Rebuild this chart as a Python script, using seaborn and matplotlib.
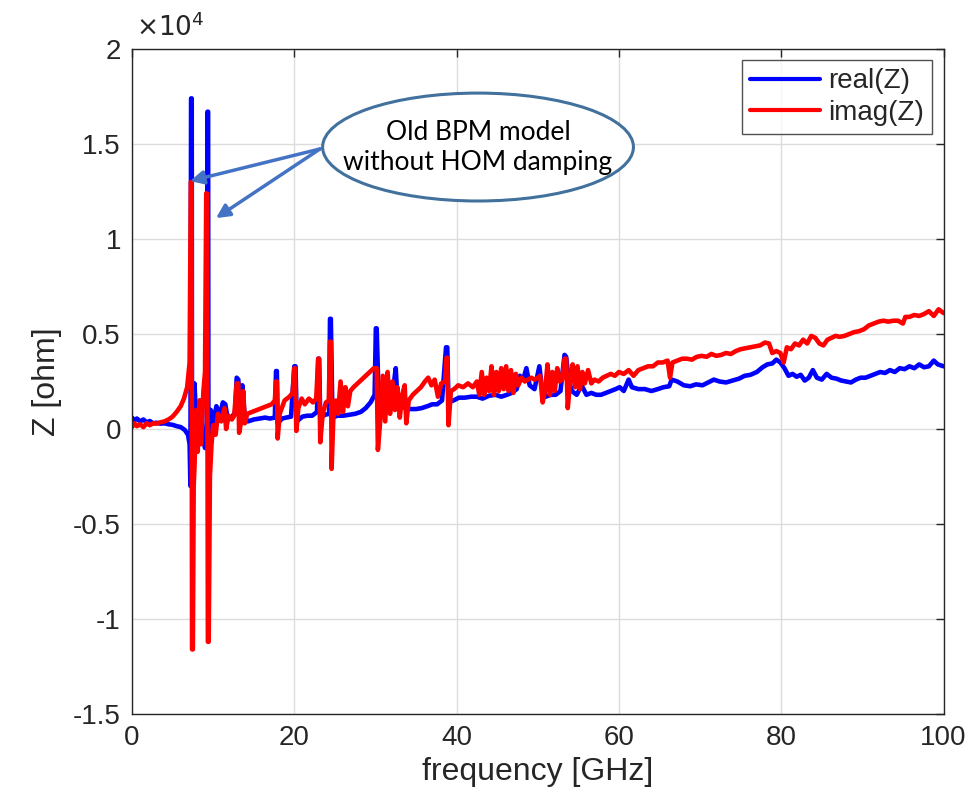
import matplotlib
matplotlib.use("Agg")
import matplotlib.pyplot as plt
import seaborn as sns
import pandas as pd
from matplotlib.patches import Ellipse

# ---------------- data ----------------
real_f = [0.0, 0.3, 0.6, 1.0, 1.4, 1.8, 2.2, 2.6, 3.0, 3.5, 4.0, 4.5, 5.0, 5.5, 6.0, 6.5, 6.9,
          7.1, 7.2, 7.28, 7.36, 7.4, 7.5, 7.7, 7.9, 8.1, 8.4, 8.7, 9.0, 9.2, 9.3, 9.38, 9.42, 9.5,
          9.7, 10.0, 10.4, 10.8, 11.2, 11.5, 11.8, 12.3, 12.7, 12.9, 13.1, 13.3, 13.6, 13.9, 14.3,
          15.0, 15.7, 16.4, 17.0, 17.6, 17.75, 17.85, 17.95, 18.5, 19.0, 19.6, 20.0, 20.15, 20.3,
          21.0, 21.6, 22.2, 22.8, 22.95, 23.05, 23.2, 23.8, 24.3, 24.4, 24.5, 24.7, 25.3, 26.0,
          26.8, 27.5, 28.2, 28.8, 29.4, 29.9, 30.05, 30.15, 30.4, 30.8, 31.3, 31.8, 32.3, 32.5,
          32.7, 33.2, 33.7, 34.3, 35.0, 35.7, 36.4, 37.0, 37.6, 38.2, 38.7, 38.85, 39.0, 39.6,
          40.3, 41.0, 41.8, 42.5, 43.2, 44.0, 44.8, 45.5, 46.2, 46.8, 47.4, 47.8, 48.2, 48.6,
          49.0, 49.6, 50.2, 50.5, 51.0, 51.6, 52.2, 52.8, 53.3, 53.5, 53.8, 54.2, 54.8, 55.4,
          56.0, 56.6, 57.2, 57.8, 58.4, 59.0, 59.6, 60.1, 60.6, 61.2, 61.6, 62.4, 63.2, 64.0,
          64.8, 65.5, 66.2, 66.5, 67.2, 68.0, 68.8, 69.5, 70.3, 71.0, 71.7, 72.4, 73.2, 74.0,
          74.8, 75.5, 76.2, 77.0, 77.7, 78.3, 78.9, 79.4, 79.9, 80.4, 80.9, 81.4, 81.9, 82.4,
          82.9, 83.4, 83.9, 84.4, 85.0, 85.6, 86.2, 86.8, 87.4, 88.0, 88.6, 89.2, 89.8, 90.4,
          91.0, 91.6, 92.2, 92.8, 93.4, 94.0, 94.6, 95.2, 95.8, 96.4, 97.0, 97.6, 98.2, 98.8,
          99.3, 100.0]
real_z = [600, 450, 550, 400, 500, 350, 420, 300, 330, 280, 300, 250, 220, 150, 100, -50, -300,
          -800, -3000, 17400, 17400, -3000, 300, 2400, 500, -600, 1500, -300, -1000, -500, 16700, 16700, -3100, -200,
          1000, 300, 1200, 700, 1400, 1300, 500, 600, 900, 2700, 2600, 900, 2300, 600, 400,
          500, 550, 600, 550, 600, 3050, 3050, 300, 550, 600, 650, 3300, 3300, 400,
          650, 700, 700, 900, 3700, 3700, 600, 750, 800, 5800, 5800, 600, 700, 700,
          750, 800, 900, 1100, 1400, 1800, 5300, 5300, 1500, 800, 1000, 1500, 2500, 3200,
          1600, 1200, 1100, 1050, 1050, 1100, 1200, 1300, 1300, 1500, 4300, 4300, 1400, 1500,
          1650, 1650, 1700, 1700, 1600, 1750, 1800, 1700, 1800, 1900, 2100, 2800, 2600, 3200,
          2300, 2100, 3300, 2200, 1700, 1800, 1800, 2000, 3900, 3800, 2600, 2000, 1800, 2300,
          1800, 1900, 1800, 1800, 1900, 2000, 2100, 2200, 2000, 2600, 2200, 2100, 2100, 2000,
          2100, 2200, 2250, 2600, 2500, 2300, 2250, 2350, 2300, 2450, 2600, 2500, 2450, 2550,
          2650, 2800, 2850, 3000, 3250, 3400, 3450, 3650, 3500, 3200, 2800, 2900, 2750, 2850,
          2550, 2700, 3100, 2700, 2600, 2900, 2700, 2650, 2550, 2500, 2450, 2600, 2700, 2700,
          2800, 2900, 3000, 2950, 3100, 3000, 3200, 3150, 3300, 3200, 3400, 3250, 3300, 3600,
          3400, 3300]

imag_f = [0.0, 0.3, 0.6, 1.0, 1.4, 1.8, 2.2, 2.6, 3.0, 3.5, 4.0, 4.5, 5.0, 5.5, 6.0, 6.4, 6.8,
          7.1, 7.25, 7.33, 7.4, 7.5, 7.6, 7.7, 7.9, 8.1, 8.3, 8.5, 8.8, 9.0, 9.15, 9.25, 9.35,
          9.45, 9.6, 9.8, 10.0, 10.3, 10.6, 11.0, 11.4, 11.6, 11.9, 12.3, 12.6, 12.9, 13.1, 13.2,
          13.5, 13.7, 13.9, 14.2, 14.8, 15.4, 16.0, 16.6, 17.2, 17.6, 17.75, 17.85, 17.95, 18.2,
          18.8, 19.4, 19.8, 20.0, 20.1, 20.25, 20.5, 20.9, 21.3, 21.8, 22.3, 22.7, 22.95, 23.05,
          23.2, 23.5, 23.9, 24.25, 24.4, 24.5, 24.6, 24.8, 25.1, 25.4, 25.7, 26.0, 26.3, 26.6,
          26.9, 27.3, 27.8, 28.3, 28.8, 29.3, 29.8, 30.05, 30.15, 30.3, 30.6, 30.9, 31.2, 31.5,
          31.8, 32.1, 32.4, 32.7, 33.0, 33.3, 33.6, 33.8, 34.1, 34.6, 35.1, 35.6, 36.1, 36.5,
          36.9, 37.3, 37.7, 38.1, 38.6, 38.75, 38.85, 39.0, 39.3, 39.7, 40.2, 40.8, 41.4, 42.0,
          42.5, 42.8, 43.1, 43.4, 43.7, 44.0, 44.3, 44.6, 44.9, 45.2, 45.5, 45.8, 46.1, 46.4,
          46.7, 47.0, 47.3, 47.6, 48.0, 48.4, 48.8, 49.2, 49.6, 50.0, 50.3, 50.6, 50.9, 51.2,
          51.5, 51.8, 52.1, 52.4, 52.7, 53.0, 53.3, 53.5, 53.7, 54.0, 54.3, 54.6, 54.9, 55.2,
          55.5, 55.8, 56.2, 56.6, 57.0, 57.5, 58.0, 58.5, 59.0, 59.5, 60.0, 60.6, 61.2, 61.8,
          62.4, 63.0, 63.6, 64.2, 64.8, 65.4, 66.0, 66.3, 66.6, 67.2, 67.8, 68.4, 69.0, 69.6,
          70.2, 70.8, 71.4, 72.0, 72.6, 73.2, 73.8, 74.4, 75.0, 75.6, 76.2, 76.8, 77.4, 78.0,
          78.5, 78.9, 79.4, 79.9, 80.3, 80.7, 81.2, 81.7, 82.2, 82.7, 83.2, 83.7, 84.2, 84.7,
          85.2, 85.7, 86.2, 86.7, 87.2, 87.8, 88.4, 89.0, 89.6, 90.2, 90.8, 91.4, 92.0, 92.6,
          93.2, 93.8, 94.4, 95.0, 95.3, 95.8, 96.4, 97.0, 97.6, 98.2, 98.8, 99.4, 100.0]
imag_z = [100, 300, 150, 250, 100, 300, 200, 300, 280, 350, 400, 500, 650, 900, 1200, 1600, 2200,
          3500, 13000, 13000, -11600, -11600, -3000, -2000, 1000, -1200, 1500, -800, 2000, 3000, 12400, 12400, -11200,
          -11200, -2500, -800, 200, -300, 800, 400, 1100, 0, 700, 500, 700, 2400, 2400, -200,
          500, 2000, 300, 800, 900, 1000, 1100, 1200, 1300, 1500, 2500, 2500, -500, 800,
          1500, 1700, 1900, 3200, 3200, -100, 1100, 1600, 1300, 1600, 1400, 1600, 3700, 3700,
          -700, 800, 1400, 1500, 4600, 4600, -2100, 500, 1500, 800, 2500, 900, 2200, 1200,
          2000, 2200, 2400, 2600, 2800, 3000, 3200, 3200, 3200, -1100, 500, 2800, 400, 3000,
          800, 2500, 1000, 2200, 600, 1800, 2300, 300, 1500, 1800, 2000, 2200, 2500, 2700,
          2300, 2600, 1700, 2400, 2500, 3750, 3750, 200, 2000, 2100, 2300, 2200, 2400, 2200,
          2500, 1800, 3000, 1800, 2700, 2000, 3300, 1800, 3000, 2000, 3200, 2100, 3300, 2000,
          3100, 1900, 2900, 2300, 2700, 2500, 2600, 2700, 2600, 2700, 2800, 1400, 2000, 3400,
          1800, 3000, 2000, 3200, 2500, 2600, 3700, 3700, 1100, 2600, 3400, 2200, 3300, 2100,
          3000, 2400, 3100, 2400, 2600, 2500, 2700, 2800, 2900, 2800, 3000, 2900, 3100, 2800,
          3100, 3200, 3300, 3300, 3500, 3500, 3600, 2700, 3500, 3600, 3700, 3700, 3650, 3800,
          3850, 3800, 3950, 3850, 3900, 4000, 3950, 4100, 4200, 4250, 4300, 4350, 4400, 4550,
          4500, 4000, 4100, 4000, 3500, 4300, 4200, 4500, 4400, 4700, 4500, 4900, 4800, 4500,
          4400, 4700, 4800, 4900, 4850, 4900, 5000, 5100, 5150, 5250, 5450, 5550, 5650, 5700,
          5650, 5700, 5700, 5550, 5900, 5900, 6000, 5950, 6050, 6200, 5950, 6300, 6100]

series_names = ["real(Z)", "imag(Z)"]
series_colors = ["#0000FF", "#FF0000"]
x_ticks = [0, 20, 40, 60, 80, 100]
y_ticks = [-15000, -10000, -5000, 0, 5000, 10000, 15000, 20000]
y_tick_labels = ["-1.5", "-1", "-0.5", "0", "0.5", "1", "1.5", "2"]
callout_text = "Old BPM model\nwithout HOM damping"

df = pd.concat([
    pd.DataFrame({"f": real_f, "z": real_z, "series": series_names[0]}),
    pd.DataFrame({"f": imag_f, "z": imag_z, "series": series_names[1]}),
], ignore_index=True)

# ---------------- style ----------------
sns.set_theme(style="white")
plt.rcParams["font.family"] = ["Liberation Sans", "DejaVu Sans"]
dark = "#262626"

fig = plt.figure(figsize=(9.74, 8.07), dpi=100)
ax = fig.add_axes([132 / 974, 1 - 714 / 807, (943.5 - 132) / 974, (714 - 49) / 807])

sns.lineplot(data=df, x="f", y="z", hue="series", palette=series_colors,
             estimator=None, sort=False, linewidth=3.3, ax=ax)

ax.set_xlim(0, 100)
ax.set_ylim(-15000, 20000)
ax.set_xticks(x_ticks)
ax.set_yticks(y_ticks)
ax.set_yticklabels(y_tick_labels)
ax.grid(True, color="#DCDCDC", linewidth=1.0)
ax.set_axisbelow(True)
for s in ax.spines.values():
    s.set_color(dark)
    s.set_linewidth(1.0)
ax.tick_params(axis="both", direction="in", length=6, width=1, color=dark,
               labelsize=20, labelcolor=dark, top=True, right=True, pad=8)
ax.set_xlabel("frequency [GHz]", fontsize=23, color=dark, labelpad=4)
ax.set_ylabel("Z [ohm]", fontsize=23, color=dark, labelpad=8)

ax.text(0.005, 1.012, r"$\times10^{4}$", transform=ax.transAxes, fontsize=19,
        color=dark, ha="left", va="bottom")

leg = ax.legend(loc="upper right", fontsize=20, frameon=True, fancybox=False,
                edgecolor=dark, handlelength=2.5, handletextpad=0.3,
                borderaxespad=0.4, borderpad=0.3, labelspacing=0.2)
leg.get_frame().set_linewidth(1.0)
for ln in leg.get_lines():
    ln.set_linewidth(3)

# callout
ell = Ellipse((42.64, 14840), width=38.3, height=5680, facecolor="white",
              edgecolor="#41719C", linewidth=2.2, zorder=5)
ax.add_patch(ell)
ax.text(42.64, 14840, callout_text, ha="center", va="center", fontsize=19,
        family=["Lato", "DejaVu Sans"], color="black", zorder=6, linespacing=1.25)
for tip in [(7.15, 13050), (10.35, 11100)]:
    ax.annotate("", xy=tip, xytext=(23.17, 14740),
                arrowprops=dict(arrowstyle="-|>", color="#4472C4", lw=2.5,
                                mutation_scale=20, shrinkA=0, shrinkB=0), zorder=7)

fig.savefig("out.png", dpi=100, facecolor="white")
